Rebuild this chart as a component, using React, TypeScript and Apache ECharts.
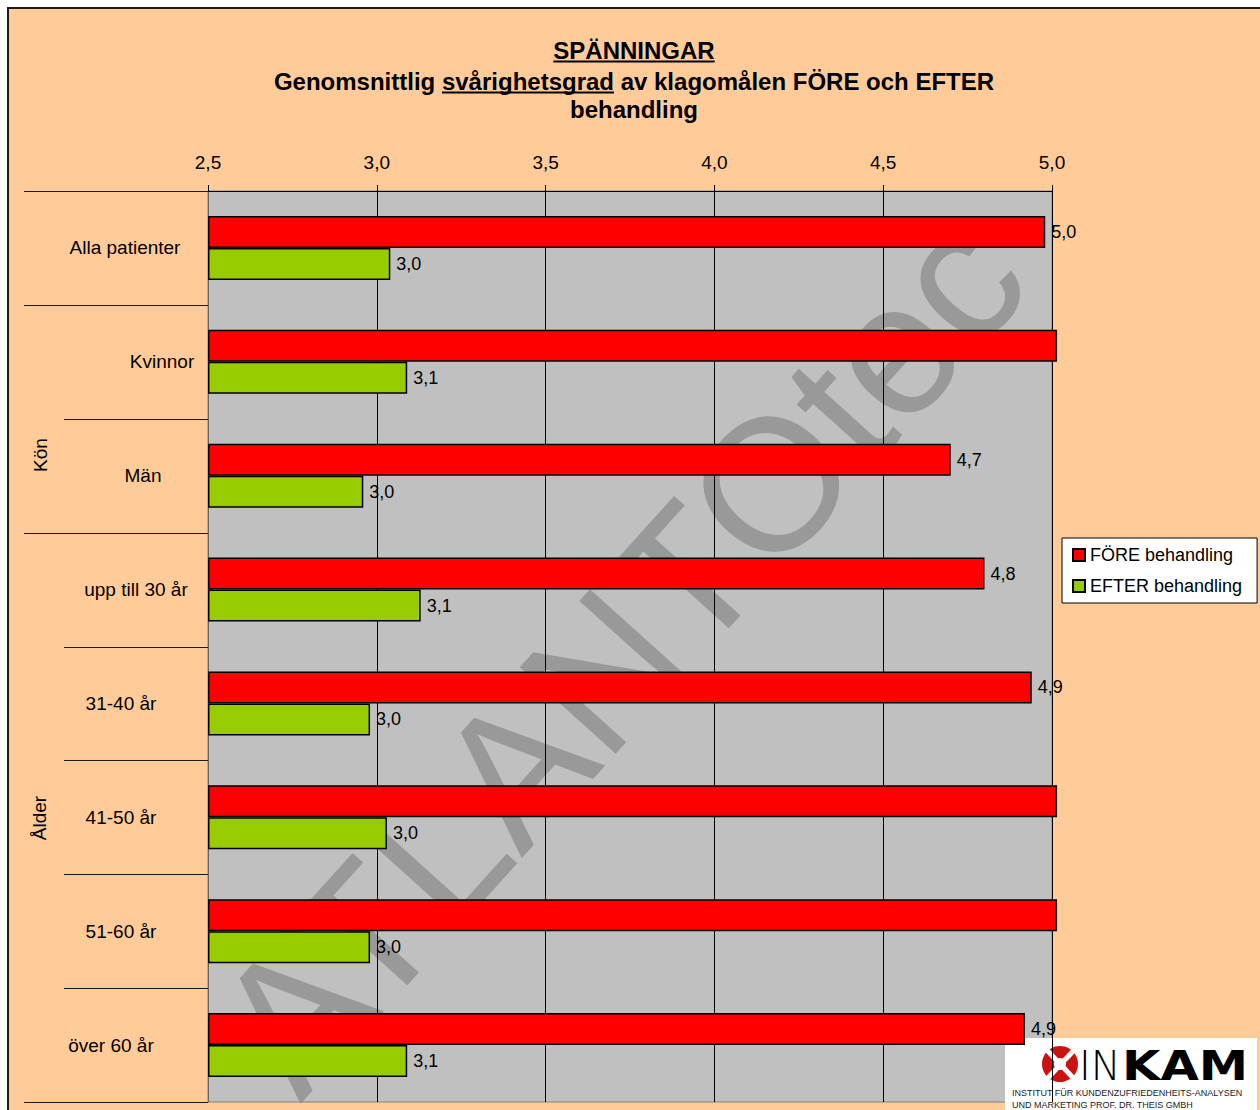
import React, { useEffect, useRef } from "react";
import * as echarts from "echarts";

// ---------- data ----------
const categories = [
  "Alla patienter",
  "Kvinnor",
  "Män",
  "upp till 30 år",
  "31-40 år",
  "41-50 år",
  "51-60 år",
  "över 60 år",
];
const groups = [
  { name: "", size: 1 },
  { name: "Kön", size: 2 },
  { name: "Ålder", size: 5 },
];
const seriesNames = ["FÖRE behandling", "EFTER behandling"];
const foreValues = [4.98, 5.2, 4.7, 4.8, 4.94, 5.2, 5.2, 4.92];
const efterValues = [3.04, 3.09, 2.96, 3.13, 2.98, 3.03, 2.98, 3.09];
const axisMin = 2.5;
const axisMax = 5.0;
const axisStep = 0.5;
const titleLine1 = "SPÄNNINGAR";
const titleLine2Parts = ["Genomsnittlig ", "svårighetsgrad", " av klagomålen FÖRE och EFTER"];
const titleLine3 = "behandling";
const watermarkText = "ATLANTOtec";

// ---------- layout / style ----------
const FONT = '"Liberation Sans", Arial, sans-serif';
const GRID = { left: 208, top: 191, right: 1052, bottom: 1102 };
const LABEL_CX = [125, 162, 143, 136, 121, 121, 121, 111];
const GROUP_LABEL = [null, { x: 40, y: 455 }, { x: 39, y: 818 }];
const OVERFLOW = 0.015; // bars past the axis max stick out a few pixels, as in the original

const fmt = (v: number) => v.toFixed(1).replace(".", ",");

function measure(text: string, font: string): number {
  const ctx = document.createElement("canvas").getContext("2d");
  if (!ctx) return text.length * 10;
  ctx.font = font;
  return ctx.measureText(text).width;
}

export default function App() {
  const ref = useRef<HTMLDivElement>(null);

  useEffect(() => {
    if (!ref.current) return;
    const chart = echarts.init(ref.current, undefined, { renderer: "svg" });

    const band = (GRID.bottom - GRID.top) / categories.length;
    const graphics: any[] = [];

    // plot background + watermark (below axes)
    graphics.push({
      type: "rect",
      z: -3,
      silent: true,
      shape: { x: GRID.left, y: GRID.top, width: GRID.right - GRID.left, height: GRID.bottom - GRID.top },
      style: { fill: "#C0C0C0" },
    });
    graphics.push({
      type: "text",
      z: -2,
      silent: true,
      x: 620,
      y: 652,
      rotation: (48 * Math.PI) / 180,
      style: {
        text: watermarkText,
        font: `188px ${FONT}`,
        fill: "#999999",
        align: "center",
        verticalAlign: "middle",
      },
    });
    // masks clipping the watermark to the plot
    graphics.push({
      type: "rect",
      z: -1,
      silent: true,
      shape: { x: 9, y: GRID.bottom + 1, width: 1260, height: 20 },
      style: { fill: "#FFCC99" },
    });
    graphics.push({
      type: "rect",
      z: -1,
      silent: true,
      shape: { x: 9, y: 120, width: GRID.left - 9.5, height: 1000 },
      style: { fill: "#FFCC99" },
    });
    graphics.push({
      type: "rect",
      z: -1,
      silent: true,
      shape: { x: GRID.right + 0.5, y: 120, width: 300, height: 1000 },
      style: { fill: "#FFCC99" },
    });

    // title
    const tFont = `bold 24px ${FONT}`;
    const cx = 634;
    const w1 = measure(titleLine1, tFont);
    graphics.push({
      type: "text",
      style: { text: titleLine1, x: cx, y: 50, font: tFont, fill: "#000", align: "center", verticalAlign: "middle" },
    });
    graphics.push({
      type: "line",
      shape: { x1: cx - w1 / 2, y1: 61.5, x2: cx + w1 / 2, y2: 61.5 },
      style: { stroke: "#000", lineWidth: 2 },
    });
    const line2 = titleLine2Parts.join("");
    const wTot = measure(line2, tFont);
    const start = cx - wTot / 2;
    const u1 = start + measure(titleLine2Parts[0], tFont);
    const u2 = start + measure(titleLine2Parts[0] + titleLine2Parts[1], tFont);
    graphics.push({
      type: "text",
      style: { text: line2, x: cx, y: 81, font: tFont, fill: "#000", align: "center", verticalAlign: "middle" },
    });
    graphics.push({
      type: "line",
      shape: { x1: u1, y1: 92.5, x2: u2, y2: 92.5 },
      style: { stroke: "#000", lineWidth: 2 },
    });
    graphics.push({
      type: "text",
      style: { text: titleLine3, x: cx, y: 109, font: tFont, fill: "#000", align: "center", verticalAlign: "middle" },
    });

    // category labels
    categories.forEach((c, i) => {
      graphics.push({
        type: "text",
        style: {
          text: c,
          x: LABEL_CX[i],
          y: GRID.top + (i + 0.5) * band,
          font: `19px ${FONT}`,
          fill: "#000",
          align: "center",
          verticalAlign: "middle",
        },
      });
    });

    // separator lines (multi-level category ticks)
    const groupEdges = new Set<number>();
    let acc = 0;
    groupEdges.add(0);
    groups.forEach((g) => {
      acc += g.size;
      groupEdges.add(acc);
    });
    for (let i = 0; i <= categories.length; i++) {
      const y = Math.round(GRID.top + i * band) + 0.5;
      graphics.push({
        type: "line",
        shape: { x1: groupEdges.has(i) ? 24 : 64, y1: y, x2: GRID.left, y2: y },
        style: { stroke: "#1a1a1a", lineWidth: 1 },
      });
    }
    // group labels
    groups.forEach((g, gi) => {
      const pos = GROUP_LABEL[gi];
      if (!g.name || !pos) return;
      graphics.push({
        type: "text",
        x: pos.x,
        y: pos.y,
        rotation: Math.PI / 2,
        style: { text: g.name, x: 0, y: 0, font: `19px ${FONT}`, fill: "#000", align: "center", verticalAlign: "middle" },
      });
    });

    // INKAM logo
    graphics.push({
      type: "group",
      z: 20,
      children: [
        { type: "rect", shape: { x: 1005, y: 1038, width: 252, height: 80 }, style: { fill: "#FFFFFF" } },
        { type: "circle", shape: { cx: 1060, cy: 1064, r: 18 }, style: { fill: "#CC1111" } },
        { type: "line", shape: { x1: 1044, y1: 1047, x2: 1077, y2: 1082 }, style: { stroke: "#FFFFFF", lineWidth: 5 } },
        { type: "line", shape: { x1: 1077, y1: 1047, x2: 1044, y2: 1082 }, style: { stroke: "#FFFFFF", lineWidth: 5 } },
        { type: "circle", shape: { cx: 1060, cy: 1064, r: 6 }, style: { fill: "#FFFFFF" } },
        {
          type: "text",
          x: 1079,
          y: 1066,
          style: { text: "IN", x: 0, y: 0, font: `200 40px "DejaVu Sans", sans-serif`, fill: "#000", align: "left", verticalAlign: "middle" },
        },
        {
          type: "text",
          x: 1122,
          y: 1066,
          scaleX: 1.24,
          style: { text: "KAM", x: 0, y: 0, font: `bold 40px "DejaVu Sans", sans-serif`, fill: "#000", align: "left", verticalAlign: "middle" },
        },
        {
          type: "text",
          style: { text: "INSTITUT FÜR KUNDENZUFRIEDENHEITS-ANALYSEN", x: 1012, y: 1093, font: `9px ${FONT}`, fill: "#222", verticalAlign: "middle" },
        },
        {
          type: "text",
          style: { text: "UND MARKETING PROF. DR. THEIS GMBH", x: 1012, y: 1105, font: `9px ${FONT}`, fill: "#222", verticalAlign: "middle" },
        },
      ],
    });

    const labelFor = (vals: number[]) => (p: any) => {
      const v = vals[p.dataIndex];
      return v > axisMax ? "" : fmt(v);
    };

    // each bar is an invisible base up to the axis minimum plus the visible part above it
    const makePair = (name: string, stack: string, vals: number[], color: string) => [
      {
        name: name + "-base",
        type: "bar",
        stack,
        data: vals.map(() => axisMin),
        barWidth: 32,
        barGap: "0%",
        clip: false,
        silent: true,
        itemStyle: { color: "transparent", borderWidth: 0 },
        label: { show: false },
      },
      {
        name,
        type: "bar",
        stack,
        data: vals.map((v) => Math.min(v, axisMax + OVERFLOW) - axisMin),
        barWidth: 32,
        barGap: "0%",
        clip: false,
        itemStyle: { color, borderColor: "#000", borderWidth: 1.5 },
        label: { show: true, position: "right", distance: 6, fontSize: 18, color: "#000", formatter: labelFor(vals) },
      },
    ];

    chart.setOption({
      animation: false,
      textStyle: { fontFamily: FONT },
      grid: {
        left: GRID.left,
        top: GRID.top,
        width: GRID.right - GRID.left,
        height: GRID.bottom - GRID.top,
        show: true,
        backgroundColor: "transparent",
        borderColor: "#808080",
        borderWidth: 1,
        containLabel: false,
      },
      legend: {
        orient: "vertical",
        left: 1062,
        top: 538,
        backgroundColor: "#FFFFFF",
        borderColor: "#000",
        borderWidth: 1,
        padding: [8, 15, 8, 10],
        itemGap: 13,
        itemWidth: 12,
        itemHeight: 12,
        icon: "rect",
        textStyle: { fontSize: 18, color: "#000", fontFamily: FONT },
        data: seriesNames,
      },
      xAxis: {
        type: "value",
        position: "top",
        min: axisMin,
        max: axisMax,
        interval: axisStep,
        axisLine: { show: true, lineStyle: { color: "#000", width: 1 } },
        axisTick: { show: true, length: 6, lineStyle: { color: "#000" } },
        axisLabel: { fontSize: 19, color: "#000", margin: 19, formatter: (v: number) => fmt(v) },
        splitLine: { show: true, lineStyle: { color: "#000", width: 1 } },
      },
      yAxis: {
        type: "category",
        data: categories,
        inverse: true,
        axisLine: { show: true, lineStyle: { color: "#666", width: 1 } },
        axisTick: { show: false },
        axisLabel: { show: false },
        splitLine: { show: false },
      },
      series: [
        ...makePair(seriesNames[0], "fore", foreValues, "#FF0000"),
        ...makePair(seriesNames[1], "efter", efterValues, "#99CC00"),
      ],
      graphic: { elements: graphics },
    });

    return () => chart.dispose();
  }, []);

  return (
    <div style={{ position: "fixed", left: 0, top: 0, width: 1260, height: 1110, overflow: "hidden", background: "#FFFFFF" }}>
      <div
        style={{
          position: "absolute",
          left: 7,
          top: 7,
          width: 1300,
          height: 1200,
          background: "#FFCC99",
          borderLeft: "2px solid #1a1a1a",
          borderTop: "2px solid #1a1a1a",
        }}
      />
      <div ref={ref} style={{ position: "absolute", left: 0, top: 0, width: 1260, height: 1110 }} />
    </div>
  );
}
